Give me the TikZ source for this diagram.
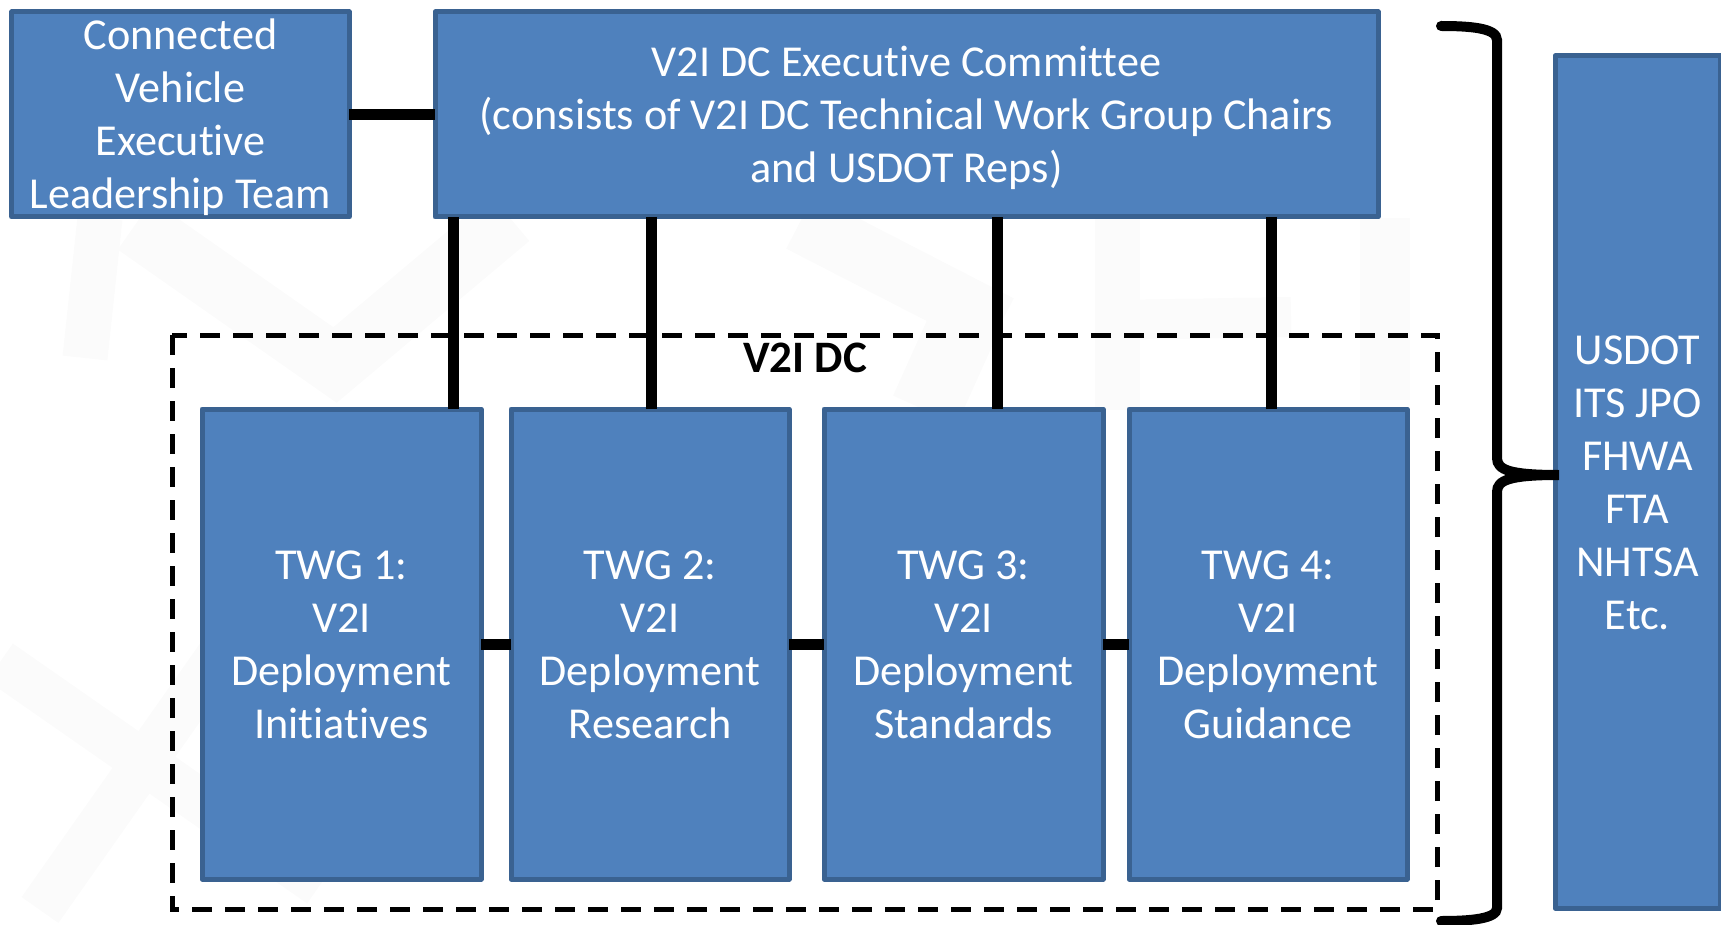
\documentclass[tikz,border=0pt]{standalone}
\usepackage{fontspec}
\setmainfont[Ligatures=NoCommon]{Carlito}
\definecolor{boxfill}{HTML}{4F81BD}
\definecolor{boxline}{HTML}{3A6291}
\definecolor{mark}{HTML}{FBFBFB}
\tikzset{
  box/.style={draw=boxline,fill=boxfill,line width=5pt,outer sep=0pt,inner sep=0pt,align=center,text=white,font=\fontsize{44.2}{53}\selectfont,line join=round},
  conn/.style={draw=black,line width=11pt},
  dashbox/.style={draw=black,line width=5pt,dash pattern=on 20pt off 13pt},
  bracepath/.style={draw=black,line width=10pt,line cap=round},
  faint/.style={draw=mark,line cap=butt,line join=miter},
}
\begin{document}
\begin{tikzpicture}[x=1pt,y=-1pt]
\useasboundingbox (0,0) rectangle (1721,925);
% faint background watermark
\draw[faint,line width=45pt] (100,218) -- (85,358);
\draw[faint,line width=60pt] (135,225) -- (335,365) -- (510,218);
\draw[faint,line width=45pt] (0,662) -- (320,885);
\draw[faint,line width=45pt] (40,910) -- (230,640);
\draw[faint,line width=60pt] (800,222) -- (1000,325);
\draw[faint,line width=70pt] (970,310) -- (925,410);
\draw[faint,line width=45pt] (1117,218) -- (1117,410);
\draw[faint,line width=40pt] (1117,320) -- (1291,317);
\draw[faint,line width=50pt] (1385,218) -- (1385,400);
\coordinate (dashtl) at (172,335);
\coordinate (dashbr) at (1437,909);
\draw[dashbox] (dashtl) rectangle (dashbr);
\node[font=\fontsize{45}{53}\selectfont\bfseries] (dc) at (805,358) {V2I DC};
\node[box,minimum width=337.5pt,minimum height=205pt] (cv) at (180.5,114.5) {\rule{0pt}{37pt}Connected\\Vehicle\\Executive\\Leadership Team};
\node[box,minimum width=943pt,minimum height=205pt] (ex) at (906.5,114.5) {\rule{0pt}{37pt}V2I DC Executive Committee\\(consists of V2I DC Technical Work Group Chairs\\and USDOT Reps)};
\node[box,minimum width=279pt,minimum height=470pt] (t1) at (341.5,644) {\rule{0pt}{30pt}TWG 1:\\V2I\\Deployment\\Initiatives};
\node[box,minimum width=278pt,minimum height=470pt] (t2) at (650,644) {\rule{0pt}{30pt}TWG 2:\\V2I\\Deployment\\Research};
\node[box,minimum width=279pt,minimum height=470pt] (t3) at (963.5,644) {\rule{0pt}{30pt}TWG 3:\\V2I\\Deployment\\Standards};
\node[box,minimum width=278pt,minimum height=470pt] (t4) at (1268,644) {\rule{0pt}{30pt}TWG 4:\\V2I\\Deployment\\Guidance};
\node[box,minimum width=165pt,minimum height=852pt] (us) at (1637.5,482) {\rule{0pt}{30pt}USDOT\\ITS JPO\\FHWA\\FTA\\NHTSA\\Etc.};
\draw[conn] (cv.east) -- (ex.west);
\draw[conn] (ex.south -| 453,0) -- (t1.north -| 453,0);
\draw[conn] (ex.south -| 651,0) -- (t2.north -| 651,0);
\draw[conn] (ex.south -| 997,0) -- (t3.north -| 997,0);
\draw[conn] (ex.south -| 1271,0) -- (t4.north -| 1271,0);
\draw[conn] (t1.east) -- (t2.west);
\draw[conn] (t2.east) -- (t3.west);
\draw[conn] (t3.east) -- (t4.west);
\coordinate (bt) at (1441,26);
\coordinate (bm) at (1559,475);
\coordinate (bb) at (1441,921);
\draw[bracepath] (bt) .. controls (1470,26) and (1497,28) .. (1497,40) -- (1497,458) .. controls (1497,470) and (1510,475) .. (bm)
  .. controls (1510,475) and (1497,480) .. (1497,492) -- (1497,908) .. controls (1497,919) and (1470,921) .. (bb);
\end{tikzpicture}
\end{document}
